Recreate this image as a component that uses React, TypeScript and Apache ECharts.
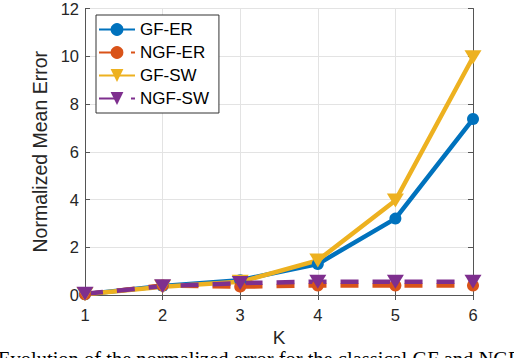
import React, { useEffect, useRef } from "react";
import * as echarts from "echarts";

const kValues = [1, 2, 3, 4, 5, 6];
const gfER = [0.03, 0.38, 0.62, 1.3, 3.2, 7.37];
const ngfER = [0.03, 0.4, 0.35, 0.4, 0.4, 0.4];
const gfSW = [0.03, 0.35, 0.55, 1.45, 3.96, 9.96];
const ngfSW = [0.05, 0.37, 0.5, 0.56, 0.56, 0.56];
const seriesNames = ["GF-ER", "NGF-ER", "GF-SW", "NGF-SW"];
const caption = "Evolution of the normalized error for the classical GF and NGF with";

const FONT = "'Liberation Sans', Arial, Helvetica, sans-serif";
const TXT = "#262626";

export default function App() {
  const ref = useRef<HTMLDivElement>(null);
  useEffect(() => {
    if (!ref.current) return;
    const chart = echarts.init(ref.current, undefined, { renderer: "svg" });
    const pair = (vals: number[]) => kValues.map((k, i) => [k, vals[i]]);
    const mk = (
      name: string,
      vals: number[],
      color: string,
      symbol: string,
      dashed: boolean
    ) => ({
      name,
      type: "line",
      data: pair(vals),
      color,
      symbol,
      symbolSize: symbol === "triangle" ? [17, 14] : 12,
      symbolRotate: symbol === "triangle" ? 180 : 0,
      showAllSymbol: true,
      lineStyle: { width: 4.5, color, type: dashed ? [18, 14] : "solid" },
      itemStyle: { color },
      emphasis: { disabled: true },
    });
    const axisLine = { show: true, lineStyle: { color: "#555", width: 1 } };
    const tick = { show: true, inside: true, length: 5, lineStyle: { color: "#555" } };
    chart.setOption({
      animation: false,
      backgroundColor: "#fff",
      grid: { left: 85, right: 41, top: 7, bottom: 63 },
      legend: {
        data: seriesNames,
        orient: "vertical",
        left: 96,
        top: 15,
        padding: [6, 10, 6, 2],
        itemGap: 6,
        itemWidth: 36,
        itemHeight: 16,
        borderColor: "#333",
        borderWidth: 1,
        backgroundColor: "#fff",
        textStyle: { fontFamily: FONT, fontSize: 17, color: "#000" },
      },
      xAxis: [
        {
          type: "value",
          min: 1,
          max: 6,
          interval: 1,
          position: "bottom",
          name: "K",
          nameLocation: "middle",
          nameGap: 18,
          nameTextStyle: { fontFamily: FONT, fontSize: 19, color: TXT },
          axisLine,
          axisTick: tick,
          axisLabel: { fontFamily: FONT, fontSize: 16.5, color: TXT, margin: 11 },
          splitLine: { show: true, lineStyle: { color: "#e3e3e3", width: 1 } },
        },
        {
          type: "value",
          min: 1,
          max: 6,
          interval: 1,
          position: "top",
          axisLine,
          axisTick: tick,
          axisLabel: { show: false },
          splitLine: { show: false },
        },
      ],
      yAxis: [
        {
          type: "value",
          min: 0,
          max: 12,
          interval: 2,
          position: "left",
          name: "Normalized Mean Error",
          nameLocation: "middle",
          nameGap: 33,
          nameTextStyle: { fontFamily: FONT, fontSize: 19.5, color: TXT },
          axisLine,
          axisTick: tick,
          axisLabel: { fontFamily: FONT, fontSize: 16.5, color: TXT, margin: 6 },
          splitLine: { show: true, lineStyle: { color: "#e3e3e3", width: 1 } },
        },
        {
          type: "value",
          min: 0,
          max: 12,
          interval: 2,
          position: "right",
          axisLine,
          axisTick: tick,
          axisLabel: { show: false },
          splitLine: { show: false },
        },
      ],
      series: [
        mk(seriesNames[0], gfER, "#0072BD", "circle", false),
        mk(seriesNames[1], ngfER, "#D95319", "circle", true),
        mk(seriesNames[2], gfSW, "#EDB120", "triangle", false),
        mk(seriesNames[3], ngfSW, "#7E2F8E", "triangle", true),
      ],
      graphic: [
        {
          type: "text",
          left: -2,
          top: 348,
          style: {
            text: caption,
            fontFamily: "'Liberation Serif', 'Times New Roman', serif",
            fontSize: 20.5,
            fill: "#000",
          },
          silent: true,
        },
      ],
    });
    return () => chart.dispose();
  }, []);
  return (
    <div
      ref={ref}
      style={{ position: "fixed", left: 0, top: 0, width: 514, height: 358 }}
    />
  );
}
